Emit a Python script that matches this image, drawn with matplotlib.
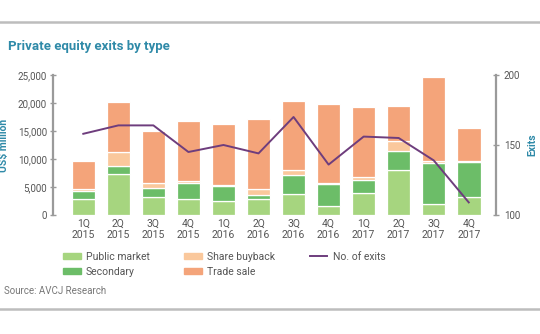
import matplotlib.pyplot as plt
from matplotlib.patches import Patch
from matplotlib.lines import Line2D
import numpy as np

plt.rcParams['font.family'] = ['Roboto', 'DejaVu Sans']

# quarterly exit values, US$ million
quarters = ['1Q\n2015', '2Q\n2015', '3Q\n2015', '4Q\n2015',
            '1Q\n2016', '2Q\n2016', '3Q\n2016', '4Q\n2016',
            '1Q\n2017', '2Q\n2017', '3Q\n2017', '4Q\n2017']
public_market = [2900, 7300, 3200, 2900, 2500, 2900, 3700, 1600, 3900, 8000, 1900, 3200]
secondary = [1400, 1500, 1700, 2800, 2700, 700, 3500, 3900, 2400, 3500, 7300, 6300]
share_buyback = [400, 2400, 900, 300, 200, 1000, 900, 300, 400, 1800, 400, 100]
trade_sale = [4900, 8900, 9200, 10800, 10800, 12500, 12200, 14000, 12600, 6200, 15100, 6000]
no_of_exits = [158, 164, 164, 145, 150, 144, 170, 136, 156, 155, 139, 109]

c_public = '#a6d57f'
c_secondary = '#6cbd68'
c_buyback = '#fac89c'
c_trade = '#f4a47a'
c_line = '#6e3d7d'
c_teal = '#2f8aa8'
c_text = '#555555'
c_axis = '#9a9a9a'

fig = plt.figure(figsize=(5.4, 3.34), dpi=100)
ax = fig.add_axes([0.0987, 0.3563, 0.8200, 0.4192])

x = np.arange(len(quarters))
w = 0.67
bottom = np.zeros(len(quarters))
for vals, col in [(public_market, c_public), (secondary, c_secondary),
                  (share_buyback, c_buyback), (trade_sale, c_trade)]:
    ax.bar(x, vals, w, bottom=bottom, color=col, edgecolor='white', linewidth=0.9)
    bottom += np.array(vals)

ax.set_xlim(-0.856, 11.78)
ax.set_ylim(0, 25000)
ax.set_yticks([0, 5000, 10000, 15000, 20000, 25000])
ax.set_yticklabels(['0', '5,000', '10,000', '15,000', '20,000', '25,000'])
ax.set_xticks(x)
ax.set_xticklabels(quarters, fontsize=7.5, color=c_text, linespacing=1.15)
ax.tick_params(axis='x', length=0, pad=3)
ax.tick_params(axis='y', direction='inout', length=5, width=1, color=c_axis,
               labelsize=7, labelcolor=c_text, pad=2)
for s in ['top', 'right', 'bottom']:
    ax.spines[s].set_visible(False)
ax.spines['left'].set_color(c_axis)
ax.spines['left'].set_linewidth(1.6)
ax.set_ylabel('US$ million', color=c_teal, fontsize=7.5, fontweight='bold', labelpad=6)

ax2 = ax.twinx()
ax2.plot(x, no_of_exits, color=c_line, linewidth=1.4)
ax2.set_ylim(100, 200)
ax2.set_yticks([100, 150, 200])
ax2.tick_params(axis='y', direction='inout', length=5, width=1, color=c_axis,
                labelsize=7, labelcolor=c_text, pad=3)
for s in ['top', 'left', 'bottom']:
    ax2.spines[s].set_visible(False)
ax2.spines['right'].set_color(c_axis)
ax2.spines['right'].set_linewidth(1.6)
ax2.set_ylabel('Exits', color=c_teal, fontsize=7.5, fontweight='bold', rotation=90, labelpad=5)

fig.text(0.015, 0.862, 'Private equity exits by type', color=c_teal,
         fontsize=9.5, fontweight='bold', va='center', ha='left')

handles = [Patch(color=c_public, label='Public market'),
           Patch(color=c_secondary, label='Secondary'),
           Patch(color=c_buyback, label='Share buyback'),
           Patch(color=c_trade, label='Trade sale'),
           Line2D([], [], color=c_line, linewidth=1.4, label='No. of exits')]
fig.legend(handles=handles, ncol=3, loc='upper left', bbox_to_anchor=(0.117, 0.246),
           frameon=False, fontsize=7.5, labelcolor=c_text, handlelength=1.7,
           handleheight=0.6, handletextpad=0.5, columnspacing=3.3,
           labelspacing=0.45, borderaxespad=0, borderpad=0)

fig.text(0.007, 0.128, 'Source: AVCJ Research', color='#777777', fontsize=7, va='center')

# grey rules above and below the chart block
fig.add_artist(Line2D([0, 1], [1 - 22 / 334, 1 - 22 / 334], color='#bdbdbd', linewidth=1.8))
fig.add_artist(Line2D([0, 1], [1 - 309 / 334, 1 - 309 / 334], color='#bdbdbd', linewidth=1.8))

fig.savefig('out.png', dpi=100)
